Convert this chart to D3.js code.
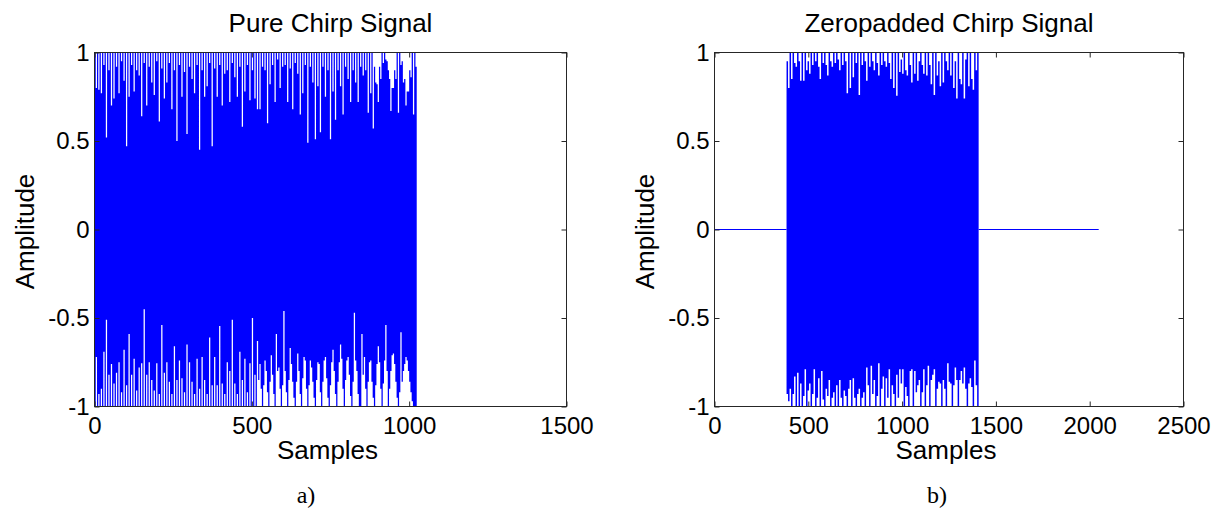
<!DOCTYPE html>
<html><head><meta charset="utf-8">
<script src="https://cdn.jsdelivr.net/npm/d3@7/dist/d3.min.js"></script>
<style>body{margin:0;background:#fff}</style>
</head><body>
<svg id="c" width="1217" height="516"></svg>
<script>
// ---- data ----
const yTicks = [-1, -0.5, 0, 0.5, 1];
const pureXTicks = [0, 500, 1000, 1500];
const padXTicks = [0, 500, 1000, 1500, 2000, 2500];
const chirpLength = 1024;     // samples in the chirp
const padOffset = 384;        // first chirp sample in the zero-padded signal
const paddedLength = 2048;    // total zero-padded length
const pureColumn = 4;         // samples per envelope value (panel a)
const padColumn = 8;          // samples per envelope value (panel b)

// visible upper / lower envelope of the pure chirp, one value per 4 samples
const pureUpper = [
1,0.80, 1,0.79, 1,0.77, 1,0.93, 1,0.52, 1,0.90, 1,0.70, 1,0.74, 1,0.92, 1,0.77,
1,0.95, 1,0.84, 1,0.47, 1,0.75, 1,0.93, 1,0.78, 1,0.90, 1,0.87, 1,0.64, 1,0.94,
1,0.70, 1,0.92, 1,0.83, 1,0.76, 1,0.95, 1,0.61, 1,0.91, 1,0.74, 1,0.83, 1,0.94,
1,0.68, 1,0.90, 1,0.50, 1,0.93, 1,0.75, 1,0.89, 1,0.54, 1,0.92, 1,0.85, 1,0.77,
1,0.93, 1,0.45, 1,0.90, 1,0.75, 1,0.81, 1,0.94, 1,0.47, 1,0.91, 1,0.75, 1,0.93,
1,0.70, 1,0.88, 1,0.90, 1,0.72, 1,0.94, 1,0.86, 1,0.75, 1,0.92, 1,0.58, 1,0.78,
1,0.93, 1,0.73, 1,0.90, 1,0.74, 1,0.68, 1,0.68, 1,0.92, 1,0.90, 1,0.60, 1,0.82,
1,0.93, 1,0.72, 1,0.96, 1,0.80, 1,0.92, 1,0.93, 1,0.72, 1,0.91, 1,0.68, 1,0.94,
1,0.88, 1,0.65, 1,0.77, 1,0.93, 1,0.49, 1,0.92, 1,0.83, 1,0.51, 1,0.81, 1,0.55,
1,0.92, 1,0.75, 1,0.90, 1,0.51, 1,0.78, 1,0.62, 1,0.90, 1,0.81, 1,0.65, 1,0.92,
1,0.85, 1,0.72, 1,0.90, 1,0.83, 1,0.72, 1,0.92, 1,0.87, 1,0.90, 1,0.66, 1,0.77,
1,0.57, 0.92,0.83, 0.82,0.72, 0.92,0.85, 1,0.94, 1,0.96, 0.95,0.90, 0.85,0.67, 0.80,0.80, 0.90,0.85,
1,0.66, 1,0.93, 0.95,0.83, 0.85,0.70, 0.78,0.78, 0.90,0.86, 1,0.65, 1,0.92
];
const pureLower = [
-1,-0.72, -1,-0.93, -1,-0.90, -1,-0.69, -1,-0.51, -1,-0.82, -1,-0.76, -1,-0.87, -1,-0.81, -1,-0.75,
-1,-0.92, -1,-0.68, -1,-0.88, -1,-0.59, -1,-0.82, -1,-0.73, -1,-0.91, -1,-0.78, -1,-0.755, -1,-0.45,
-1,-0.82, -1,-0.75, -1,-0.85, -1,-0.91, -1,-0.755, -1,-0.93, -1,-0.54, -1,-0.81, -1,-0.75, -1,-0.86,
-1,-0.93, -1,-0.66, -1,-0.85, -1,-0.74, -1,-0.84, -1,-0.92, -1,-0.65, -1,-0.75, -1,-0.86, -1,-0.93,
-1,-0.73, -1,-0.90, -1,-0.72, -1,-0.85, -1,-0.93, -1,-0.61, -1,-0.88, -1,-0.72, -1,-0.88, -1,-0.545,
-1,-0.87, -1,-0.93, -1,-0.75, -1,-0.80, -1,-0.51, -1,-0.87, -1,-0.93, -1,-0.69, -1,-0.85, -1,-0.73,
-1,-0.92, -1,-0.755, -1,-0.50, -1,-0.82, -1,-0.63,
-0.85,-0.76, -0.90,-1, -0.88,-0.74, -0.80,-0.92, -1,-0.86, -0.71,-0.82, -0.93,-1, -0.59,-0.80, -0.78,-0.90, -1,-0.88,
-0.46,-0.80, -0.92,-1, -0.85,-0.67, -0.76,-0.86, -0.95,-1, -0.86,-0.70, -0.80,-0.93, -1,-0.84, -0.72,-0.74, -0.90,-1,
-0.88,-0.74, -0.78,-0.86, -0.95,-1, -0.85,-0.75, -0.76,-0.92, -1,-0.86, -0.74,-0.72, -0.84,-0.95, -1,-0.88, -0.75,-0.68,
-0.80,-0.93, -1,-0.86, -0.75,-0.65, -0.73,-0.90, -1,-0.85, -0.74,-0.72, -0.82,-0.94, -1,-0.86, -0.47,-0.74, -0.80,-0.93,
-1,-1, -0.59,-0.82, -0.72,-0.90, -1,-0.86, -0.75,-0.74, -0.86,-0.95, -1,-0.88, -0.76,-0.66, -0.75,-0.90, -1,-0.87,
-0.74,-0.54, -0.80,-1, -0.90,-0.80, -0.71,-0.70, -0.76,-0.86, -0.95,-1, -0.92,-0.58, -0.86,-0.80, -0.76,-0.72, -0.74,-0.80,
-0.86,-0.92, -0.97,-1, -1,-1
];
// visible envelope of the chirp inside the zero-padded signal, one value per 8 samples
const padUpper = [
0.95,0.80,1,0.85,1,0.94,0.92,1,0.95,0.84,
1,0.84,1,0.90,0.95,0.88,1,0.93,1,0.95,
1,0.92,0.85,1,0.94,1,0.93,0.87,1,0.95,
0.92,1,0.94,1,0.96,0.90,1,0.93,1,0.95,
0.77,1,0.80,1,0.86,1,0.94,1,0.76,1,
0.93,1,0.95,0.84,1,0.92,1,0.95,0.90,1,
0.94,0.87,1,0.93,1,0.95,0.92,1,0.94,0.85,
1,0.80,1,0.755,1,0.89,0.96,0.88,1,0.90,
0.87,1,0.93,0.83,1,0.88,1,0.84,0.95,1,
0.93,0.88,1,0.87,1,0.93,0.82,1,0.76,1,
0.87,0.95,0.81,1,0.83,1,0.95,0.90,1,0.87,
1,0.80,0.95,0.74,1,0.85,0.82,1,0.74,0.96,
1,0.81,1,0.85,0.79,1,0.90,1
];
const padLower = [
-0.93,-0.97,-0.90,-1,-0.93,-0.83,-1,-0.81,-1,-0.87,
-1,-0.94,-0.79,-1,-0.91,-0.87,-1,-0.93,-0.79,-1,
-0.95,-0.84,-1,-0.80,-0.96,-1,-0.90,-0.94,-0.85,-1,
-0.95,-0.92,-1,-0.88,-1,-0.85,-0.95,-1,-0.91,-0.94,
-1,-0.90,-0.85,-1,-0.84,-0.95,-1,-0.93,-0.90,-1,
-0.95,-0.92,-1,-0.78,-0.88,-1,-0.77,-0.93,-0.85,-1,
-0.94,-0.755,-1,-0.90,-0.83,-1,-0.84,-0.95,-0.79,-1,
-0.88,-0.93,-1,-0.82,-0.95,-0.79,-0.87,-0.79,-1,-0.89,
-0.94,-1,-0.80,-0.79,-1,-0.80,-0.92,-0.88,-0.85,-1,
-0.92,-0.79,-1,-0.88,-0.77,-1,-0.85,-0.82,-0.79,-1,
-0.90,-0.86,-0.87,-1,-0.85,-0.90,-1,-0.755,-0.86,-0.87,
-1,-0.88,-0.78,-0.85,-1,-0.85,-0.80,-0.87,-0.78,-0.90,
-1,-0.87,-0.84,-0.89,-1,-0.74,-0.88,-1
];

// ---- drawing ----
const svg = d3.select('#c');
const SANS = '"Liberation Sans", Arial, Helvetica, sans-serif';
const SERIF = '"Liberation Serif", "Times New Roman", serif';
const BLUE = '#0000ff';
const AXIS = '#262626';

function envelopePoints(upper, lower, start, step) {
  const n = Math.min(upper.length, lower.length);
  const pts = [];
  for (let i = 0; i < n; i++) pts.push({s: start + i * step, u: upper[i], l: lower[i]});
  pts.push({s: start + n * step, u: upper[n - 1], l: lower[n - 1]});
  return pts;
}

function panel(cfg) {
  const x = d3.scaleLinear().domain(cfg.xDomain).range([cfg.left, cfg.right]);
  const y = d3.scaleLinear().domain([-1, 1]).range([cfg.bottom, cfg.top]);
  const g = svg.append('g');

  // zero-padding segments
  if (cfg.zeros) {
    g.selectAll('path.zero').data(cfg.zeros).join('path')
      .attr('class', 'zero')
      .attr('d', d3.line().x(d => x(d[0])).y(d => y(d[1])))
      .attr('fill', 'none').attr('stroke', BLUE).attr('stroke-width', 1);
  }
  // chirp
  g.append('path').datum(cfg.points)
    .attr('d', d3.area().x(d => x(d.s)).y0(d => y(d.l)).y1(d => y(d.u)).curve(d3.curveStepAfter))
    .attr('fill', BLUE);

  const fmt = d => String(d);
  const style = (sel) => {
    sel.select('.domain').remove();
    sel.selectAll('line').attr('stroke', AXIS);
    sel.selectAll('text').attr('fill', '#000').style('font-family', SANS).style('font-size', '24px');
  };
  g.append('g').attr('transform', `translate(0,${cfg.bottom})`)
    .call(d3.axisBottom(x).tickValues(cfg.xTicks).tickSize(-5).tickPadding(10).tickFormat(fmt)).call(style);
  g.append('g').attr('transform', `translate(0,${cfg.top})`)
    .call(d3.axisTop(x).tickValues(cfg.xTicks).tickSize(-5).tickFormat('')).call(style);
  g.append('g').attr('transform', `translate(${cfg.left},0)`)
    .call(d3.axisLeft(y).tickValues(yTicks).tickSize(-5).tickPadding(5).tickFormat(fmt)).call(style);
  g.append('g').attr('transform', `translate(${cfg.right},0)`)
    .call(d3.axisRight(y).tickValues(yTicks).tickSize(-5).tickFormat('')).call(style);

  g.append('rect').attr('x', cfg.left).attr('y', cfg.top)
    .attr('width', cfg.right - cfg.left).attr('height', cfg.bottom - cfg.top)
    .attr('fill', 'none').attr('stroke', AXIS).attr('stroke-width', 1);

  const cx = (cfg.left + cfg.right) / 2;
  g.append('text').attr('x', cx).attr('y', 32).attr('text-anchor', 'middle')
    .style('font-family', SANS).style('font-size', '26px').text(cfg.title);
  g.append('text').attr('x', cx - 3).attr('y', 459).attr('text-anchor', 'middle')
    .style('font-family', SANS).style('font-size', '26px').text('Samples');
  g.append('text').attr('transform', `translate(${cfg.left - 61},${(cfg.top + cfg.bottom) / 2 + 2}) rotate(-90)`)
    .attr('text-anchor', 'middle')
    .style('font-family', SANS).style('font-size', '26px').text('Amplitude');
  g.append('text').attr('x', cfg.captionX).attr('y', 503).attr('text-anchor', 'middle')
    .style('font-family', SERIF).style('font-size', '24px').text(cfg.caption);
}

panel({
  left: 94.5, right: 566.5, top: 52.5, bottom: 406.5,
  xDomain: [0, 1500], xTicks: pureXTicks,
  points: envelopePoints(pureUpper, pureLower, 0, pureColumn),
  title: 'Pure Chirp Signal', caption: 'a)', captionX: 306
});
panel({
  left: 714.5, right: 1183.5, top: 52.5, bottom: 406.5,
  xDomain: [0, 2500], xTicks: padXTicks,
  points: envelopePoints(padUpper, padLower, padOffset, padColumn),
  zeros: [[[0, 0], [padOffset, 0]], [[padOffset + chirpLength, 0], [paddedLength, 0]]],
  title: 'Zeropadded Chirp Signal', caption: 'b)', captionX: 937
});
</script>
</body></html>
